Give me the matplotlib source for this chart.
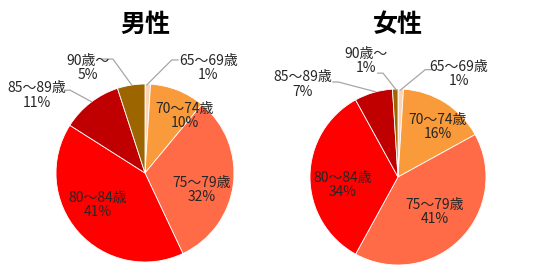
import matplotlib.pyplot as plt

plt.rcParams['font.family'] = ['Noto Sans CJK JP', 'DejaVu Sans']

ages = ['65～69歳', '70～74歳', '75～79歳', '80～84歳', '85～89歳', '90歳～']
male = [1, 10, 32, 41, 11, 5]
female = [1, 16, 41, 34, 7, 1]
colors = ['#FBD3B4', '#F99B3B', '#FF6A47', '#FF0000', '#C00000', '#9C6500']

# label positions (pie radius = 1), and leader line points for the outside ones
male_pos = [(0.71, 1.18), (0.45, 0.64), (0.64, -0.19), (-0.53, -0.36), (-1.22, 0.87), (-0.64, 1.18)]
male_lines = {0: [(0.02, 0.99), (0.30, 1.27), (0.37, 1.27)],
              4: [(-0.60, 0.80), (-0.84, 0.93), (-0.90, 0.93)],
              5: [(-0.15, 0.99), (-0.36, 1.28), (-0.48, 1.28)]}
female_pos = [(0.69, 1.17), (0.45, 0.57), (0.42, -0.40), (-0.63, -0.09), (-1.08, 1.05), (-0.36, 1.32)]
female_lines = {0: [(0.03, 0.99), (0.31, 1.22), (0.38, 1.22)],
                4: [(-0.26, 0.97), (-0.68, 1.08), (-0.74, 1.08)],
                5: [(-0.02, 0.99), (-0.17, 1.18), (-0.23, 1.18)]}

W, H = 533, 280
fig = plt.figure(figsize=(W / 100, H / 100), dpi=100)


def draw_pie(cx, cy, r, values, title, pos, lines):
    ax = fig.add_axes([(cx - r) / W, (H - cy - r) / H, 2 * r / W, 2 * r / H])
    ax.pie(values, colors=colors, startangle=90, counterclock=False, radius=1,
           wedgeprops=dict(edgecolor='white', linewidth=0.6))
    ax.set_xlim(-1, 1)
    ax.set_ylim(-1, 1)
    for i in range(len(values)):
        ax.text(pos[i][0], pos[i][1], ages[i] + '\n' + str(values[i]) + '%',
                ha='center', va='center', fontsize=10, color='#262626',
                linespacing=1.05, clip_on=False)
    for i in lines:
        xs = [p[0] for p in lines[i]]
        ys = [p[1] for p in lines[i]]
        ax.plot(xs, ys, color='#A6A6A6', linewidth=0.9, clip_on=False)
    fig.text(cx / W, 1 - 25 / H, title, ha='center', va='center',
             fontsize=18, fontweight='bold', color='black')


draw_pie(145, 173, 89, male, '男性', male_pos, male_lines)
draw_pie(398, 177, 88, female, '女性', female_pos, female_lines)

fig.savefig('out.png', dpi=100)
